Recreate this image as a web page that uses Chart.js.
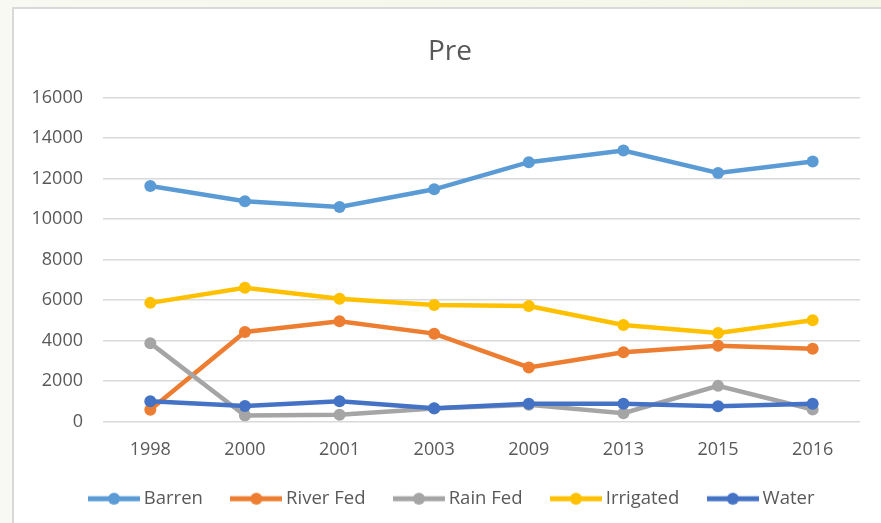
<!DOCTYPE html>
<html>
<head>
<meta charset="utf-8">
<script src="https://cdn.jsdelivr.net/npm/chart.js@4"></script>
<style>
  body { margin: 0; background: linear-gradient(90deg, #f8f9f2, #f3f6e6); width: 881px; height: 523px; overflow: hidden; }
  #box { position: absolute; left: 12px; top: 7px; width: 869px; height: 516px; background: #fff; border-left: 2px solid #d9d9d9; border-top: 2px solid #d9d9d9; }
  #box canvas { position: absolute; left: 0; top: 0; }
</style>
</head>
<body>
<div id="box"><canvas id="myChart" width="867" height="514"></canvas></div>
<script>
//datos
const years = ["1998", "2000", "2001", "2003", "2009", "2013", "2015", "2016"];
const barren = [11630, 10880, 10600, 11470, 12810, 13390, 12280, 12840];
const riverFed = [580, 4420, 4950, 4340, 2670, 3420, 3740, 3590];
const rainFed = [3870, 300, 330, 640, 830, 410, 1760, 590];
const irrigated = [5860, 6610, 6060, 5750, 5700, 4770, 4370, 5000];
const water = [1000, 760, 1000, 660, 880, 880, 750, 880];

const names = ["Barren", "River Fed", "Rain Fed", "Irrigated", "Water"];
const colors = ["#5B9BD5", "#ED7D31", "#A5A5A5", "#FFC000", "#4472C4"];
const series = [barren, riverFed, rainFed, irrigated, water];

const textColor = "#595959";
const fontFamily = "'Open Sans', sans-serif";

//icono de la leyenda: linea con circulo
const legendIcon = (color) => {
  const c = document.createElement("canvas");
  c.width = 52;
  c.height = 14;
  const ctx = c.getContext("2d");
  ctx.strokeStyle = color;
  ctx.lineWidth = 5;
  ctx.beginPath();
  ctx.moveTo(0, 7);
  ctx.lineTo(52, 7);
  ctx.stroke();
  ctx.fillStyle = color;
  ctx.beginPath();
  ctx.arc(26, 7, 6, 0, Math.PI * 2);
  ctx.fill();
  return c;
};

//mover leyenda y titulo un poco a la derecha, como en el original
const shiftBoxes = {
  id: "shiftBoxes",
  afterLayout: (chart) => {
    chart.legend.left += 34;
    chart.titleBlock.left += 26;
  }
};

const datasets = series.map((values, i) => ({
  label: names[i],
  data: values,
  borderColor: colors[i],
  backgroundColor: colors[i],
  borderWidth: 4.5,
  pointRadius: 6,
  pointBorderWidth: 0,
  pointBackgroundColor: colors[i],
  tension: 0,
  order: 4 - i
}));

const config = {
  type: "line",
  data: { labels: years, datasets },
  plugins: [shiftBoxes],
  options: {
    responsive: false,
    animation: false,
    layout: { padding: { top: 10, right: 21, bottom: 5, left: 0 } },
    plugins: {
      tooltip: { enabled: false },
      title: {
        display: true,
        text: "Pre",
        color: textColor,
        font: { family: fontFamily, size: 28, weight: "normal" },
        padding: { top: 16, bottom: 29 }
      },
      legend: {
        position: "bottom",
        labels: {
          color: textColor,
          font: { family: fontFamily, size: 18.5 },
          usePointStyle: true,
          pointStyleWidth: 41,
          padding: 33,
          generateLabels: (chart) => chart.data.datasets.map((ds, i) => ({
            text: ds.label,
            pointStyle: legendIcon(ds.borderColor),
            fillStyle: ds.borderColor,
            strokeStyle: ds.borderColor,
            lineWidth: 0,
            fontColor: textColor,
            hidden: false,
            datasetIndex: i
          }))
        }
      }
    },
    scales: {
      x: {
        offset: true,
        grid: { display: false, drawTicks: false },
        border: { display: false },
        ticks: { color: textColor, font: { family: fontFamily, size: 18 }, padding: 18 },
        afterFit: (scale) => { scale.height = 35; }
      },
      y: {
        min: 0,
        max: 16000,
        grid: { color: "#d9d9d9", lineWidth: 1.5, drawTicks: false },
        border: { display: false },
        ticks: {
          stepSize: 2000,
          color: textColor,
          font: { family: fontFamily, size: 18 },
          padding: 20,
          callback: (value) => String(value)
        },
        afterFit: (scale) => { scale.width = 89; }
      }
    }
  }
};

const myChart = new Chart(document.getElementById("myChart"), config);
</script>
</body>
</html>
